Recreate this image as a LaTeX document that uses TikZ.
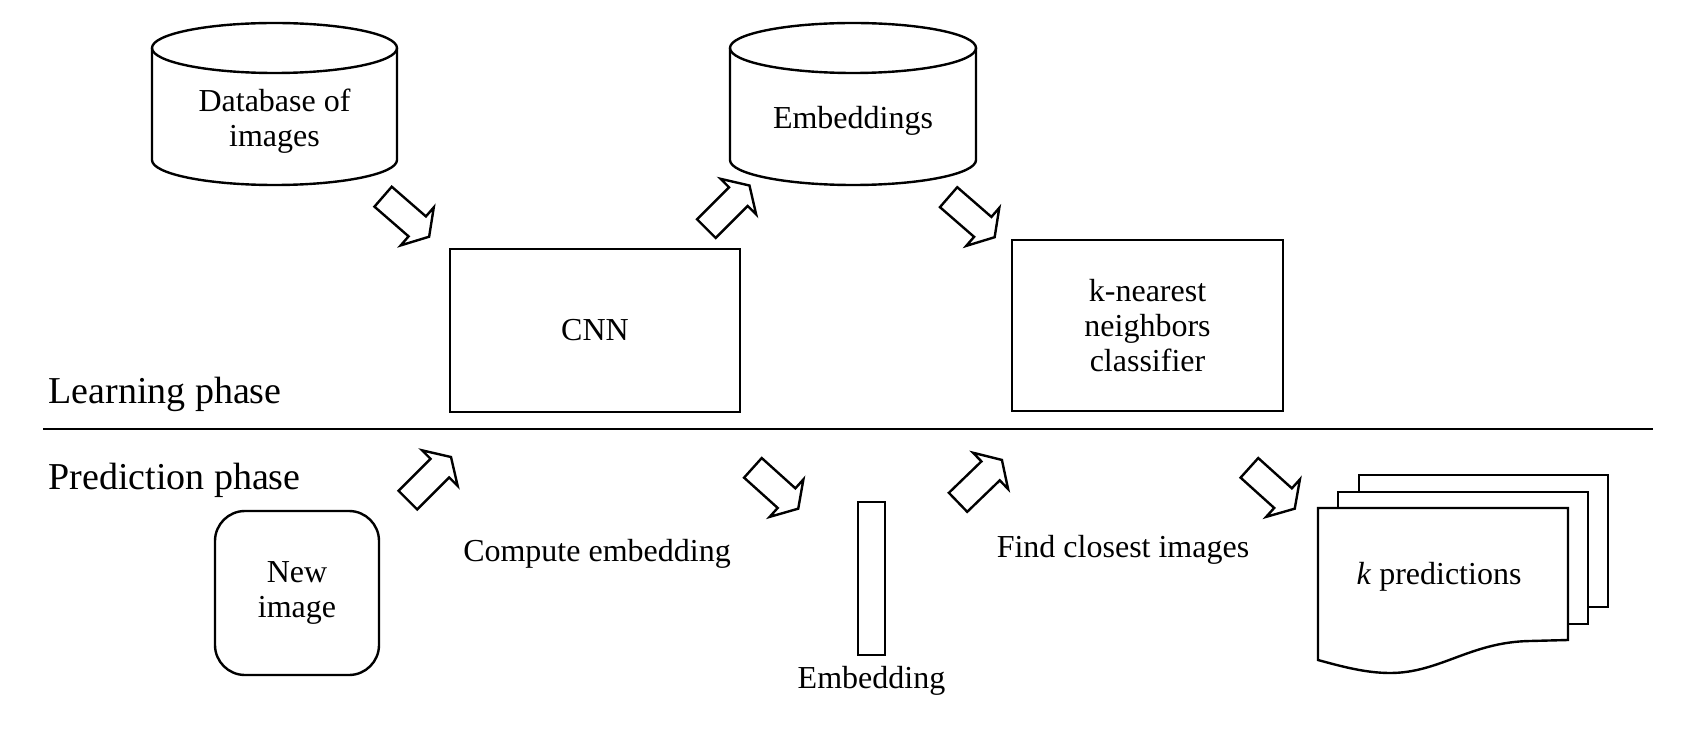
\documentclass[tikz,border=0pt]{standalone}
\usepackage{fontspec}
\setmainfont{Liberation Serif}
\usetikzlibrary{positioning,arrows,shapes.arrows}
\tikzstyle{box}=[draw, very thick, rectangle, align=center, font=\fontsize{16}{17.5}\selectfont]
\tikzstyle{lbl}=[align=center, inner sep=0pt, font=\fontsize{16}{17.5}\selectfont]
\tikzstyle{phase}=[anchor=base west, inner sep=0pt, font=\fontsize{19}{22}\selectfont]
\tikzstyle{blk}=[draw, very thick, fill=white, single arrow, single arrow tip angle=116, single arrow head extend=6pt, inner xsep=0pt, inner ysep=6pt, minimum height=30.5pt, outer sep=0pt]
\tikzstyle{page}=[draw, very thick, fill=white]

\begin{document}
\begin{tikzpicture}[x=0.5pt, y=-0.5pt, line join=miter]
\useasboundingbox (0,0) rectangle (1690,737);
% learning phase
\draw[very thick] (274.5,48) ellipse [x radius=61.25pt, y radius=12.5pt];
\draw[very thick] (152,48) -- (152,160) arc [start angle=180, end angle=360, x radius=61.25pt, y radius=12.5pt] -- (397,48);
\node[lbl] (db) at (274.5,121) {Database of\\images};

\draw[very thick] (853,48) ellipse [x radius=61.5pt, y radius=12.5pt];
\draw[very thick] (730,48) -- (730,160) arc [start angle=180, end angle=360, x radius=61.5pt, y radius=12.5pt] -- (976,48);
\node[lbl] (emb) at (853,121) {Embeddings};

\node[box, minimum width=145pt, minimum height=81.5pt] (cnn) at (595,330.5) {CNN};
\node[box, minimum width=135.5pt, minimum height=85.5pt] (knn) at (1147.5,325.5) {k-nearest\\neighbors\\classifier};

\node[blk, rotate=-41] (a1) at (403,214) {};
\node[blk, rotate=45] (a2) at (725,210) {};
\node[blk, rotate=-41] (a3) at (968.5,214.5) {};

\node[phase] (learn) at (48,403) {Learning phase};
\draw[very thick] (43,429) -- (1653,429);
\node[phase] (predict) at (48,489) {Prediction phase};

% prediction phase
\node[box, rounded corners=15pt, minimum width=82pt, minimum height=82pt] (new) at (297,593) {New\\image};
\node[blk, rotate=45] (a4) at (426.5,481.5) {};
\node[lbl] (comp) at (597,554) {Compute embedding};
\node[blk, rotate=-42] (a5) at (772.5,485.5) {};

\node[draw, very thick, minimum width=13.5pt, minimum height=76.5pt, inner sep=0pt] (vec) at (871.5,578.5) {};
\node[lbl, below=5pt of vec] (veclbl) {Embedding};

\node[blk, rotate=44] (a6) at (977,484) {};
\node[lbl] (find) at (1123,550) {Find closest images};
\node[blk, rotate=-42] (a7) at (1269,485.5) {};

\draw[page] (1359,475) rectangle (1608,607);
\draw[page] (1338,492) rectangle (1588,624);
\draw[page] (1318,508) -- (1568,508) -- (1568,640) -- (1530,641) .. controls (1470,642) and (1440,673) .. (1390,673) .. controls (1365,673) and (1340,666) .. (1318,660) -- cycle;
\node[lbl] (kpred) at (1439,577) {\textit{k} predictions};

\end{tikzpicture}
\end{document}
